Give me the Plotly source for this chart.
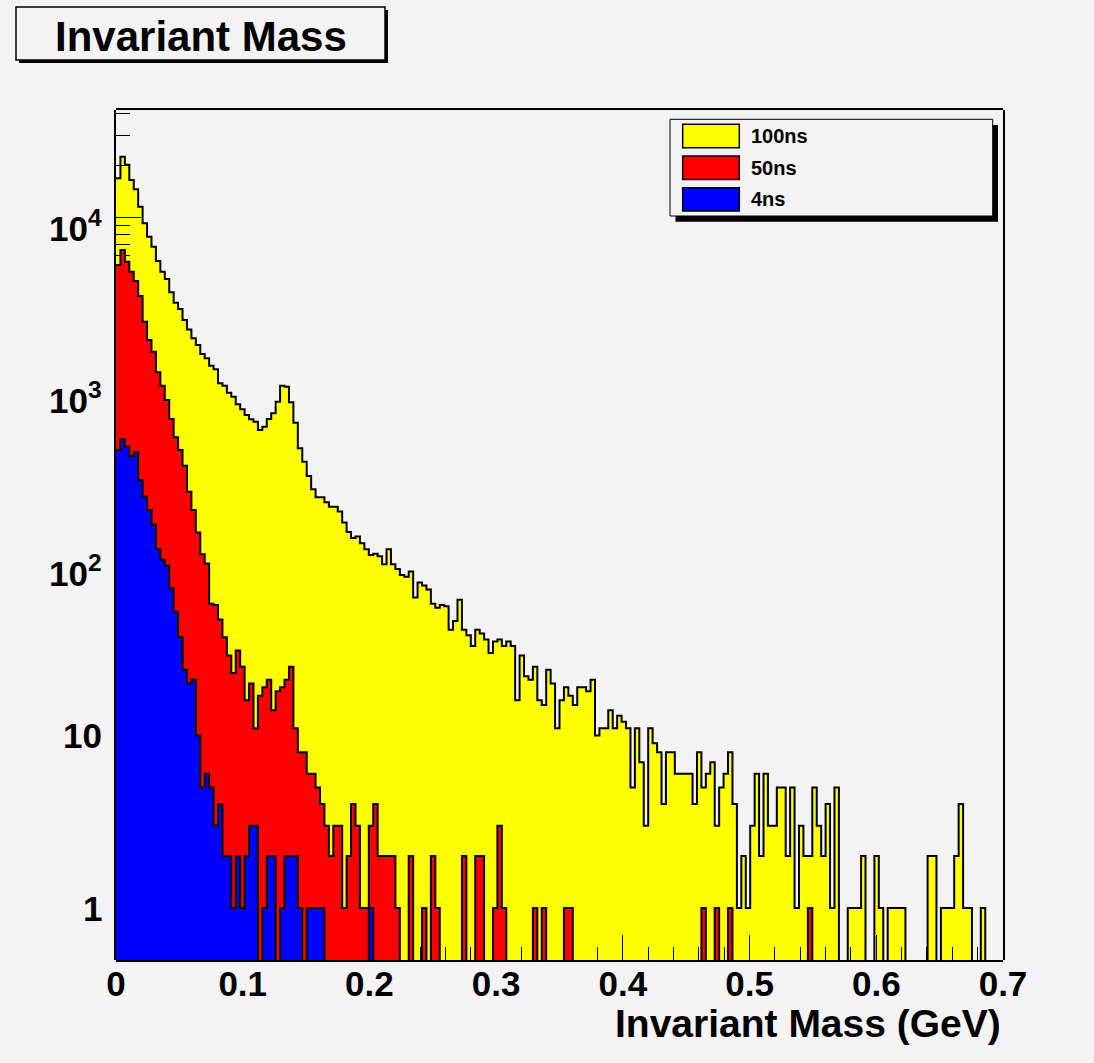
import numpy as np
import plotly.graph_objects as go

# ---------------------------------------------------------------
# Histogram definition: 200 bins between 0 and 0.7 GeV
# ---------------------------------------------------------------
n_bins = 200
mass_min, mass_max = 0.0, 0.7

# Entries per bin, 100 ns coincidence window
counts_100ns = [
    16900, 22500, 20200, 16500, 14600, 11560, 9270, 7750, 6780, 5610,
    4860, 4410, 3690, 3210, 2950, 2550, 2250, 2000, 1830, 1620,
    1530, 1387, 1321, 1097, 1062, 968, 917, 829, 775, 718,
    678, 657, 588, 614, 681, 735, 857, 1062, 1047, 851,
    648, 461, 385, 318, 267, 240, 240, 224, 211, 211,
    198, 171, 151, 139, 142, 130, 120, 111, 113, 109,
    98, 120, 98, 92, 85, 83, 89, 63, 77, 74,
    70, 58, 55, 57, 56, 41, 46, 61, 41, 38,
    33, 41, 39, 36, 30, 35, 36, 33, 35, 33,
    16, 29, 22, 21, 25, 16, 15, 24, 20, 11,
    16, 19, 17, 15, 19, 19, 18, 21, 10, 11,
    11, 14, 11, 13, 12, 11, 5, 11, 7, 3,
    11, 9, 8, 4, 8, 8, 6, 6, 6, 6,
    4, 8, 5, 6, 7, 3, 5, 6, 8, 4,
    1, 2, 1, 3, 6, 2, 6, 3, 3, 5,
    5, 2, 5, 1, 3, 2, 2, 5, 3, 2,
    4, 1, 5, 0, 0, 1, 1, 1, 2, 0,
    0, 2, 1, 0, 1, 1, 1, 1, 0, 0,
    0, 0, 0, 2, 2, 0, 1, 1, 1, 2,
    4, 1, 1, 0, 0, 1, 0, 0, 0, 0,
]

# Entries per bin, 50 ns coincidence window
counts_50ns = [
    5310, 6490, 5550, 4860, 4290, 3510, 2494, 1954, 1672, 1270,
    1062, 877, 681, 533, 450, 365, 258, 202, 150, 112,
    99, 58, 57, 47, 37, 29, 23, 31, 25, 16,
    20, 11, 17, 19, 21, 14, 18, 19, 21, 25,
    11, 8, 8, 6, 6, 5, 4, 3, 2, 3,
    3, 1, 2, 4, 3, 1, 1, 3, 4, 2,
    2, 2, 2, 1, 0, 0, 2, 0, 0, 1,
    0, 2, 1, 0, 0, 0, 0, 0, 2, 0,
    0, 2, 2, 0, 0, 1, 3, 1, 0, 0,
    0, 0, 0, 0, 1, 0, 1, 0, 0, 0,
    0, 1, 1, 0, 0, 0, 0, 0, 0, 0,
    0, 0, 0, 0, 0, 0, 0, 0, 0, 0,
    0, 0, 0, 0, 0, 0, 0, 0, 0, 0,
    0, 0, 1, 0, 0, 1, 0, 0, 1, 0,
    0, 0, 0, 0, 0, 0, 0, 0, 0, 0,
    0, 0, 0, 0, 0, 0, 1, 0, 0, 0,
    0, 0, 0, 0, 0, 0, 0, 0, 0, 0,
    0, 0, 0, 0, 0, 0, 0, 0, 0, 0,
    0, 0, 0, 0, 0, 0, 0, 0, 0, 0,
    0, 0, 0, 0, 0, 0, 0, 0, 0, 0,
]

# Entries per bin, 4 ns coincidence window
counts_4ns = [
    450, 520, 471, 416, 437, 302, 241, 202, 166, 120,
    104, 96, 71, 52, 37, 24, 20, 21, 10, 5,
    6, 5, 3, 4, 2, 2, 1, 2, 1, 2,
    3, 3, 0, 1, 2, 2, 0, 1, 2, 2,
    2, 1, 0, 1, 1, 1, 1, 0, 0, 0,
    0, 0, 0, 0, 0, 0, 0, 1, 0, 0,
] + [0] * 140

series_names = ["100ns", "50ns", "4ns"]
series_colors = ["#ffff00", "#ff0000", "#0000ff"]

x_tick_vals = [0.0, 0.1, 0.2, 0.3, 0.4, 0.5, 0.6, 0.7]
x_tick_text = ["0", "0.1", "0.2", "0.3", "0.4", "0.5", "0.6", "0.7"]
y_tick_vals = [1, 10, 100, 1000, 10000]
y_tick_text = ["1", "10", "10<sup>2</sup>", "10<sup>3</sup>", "10<sup>4</sup>"]

y_min, y_max = 0.5, 42000

title_text = "Invariant Mass"
x_title_text = "Invariant Mass (GeV)"

# ---------------------------------------------------------------
# Page geometry (pixels)
# ---------------------------------------------------------------
W, H = 1094, 1063
PL, PR, PT, PB = 116, 1003, 110, 960          # frame edges
BG = "#f3f3f3"
FONT = "Liberation Sans, Arial, Helvetica, sans-serif"


def px_x(px):
    return (px - PL) / (PR - PL)


def px_y(py):
    return (PB - py) / (PB - PT)


edges = np.linspace(mass_min, mass_max, n_bins + 1)
floor_val = 1e-3   # empty bins: outline drops below the visible range


def step_trace(counts, color, xa, ya, name):
    c = np.asarray(counts, dtype=float)
    y = np.where(c > 0, c, floor_val)
    y = np.append(y, y[-1])
    return go.Scatter(
        x=edges, y=y, mode="lines", name=name,
        line=dict(shape="hv", color="black", width=2),
        fill="tozeroy", fillcolor=color,
        xaxis=xa, yaxis=ya, hoverinfo="skip", showlegend=False,
    )


fig = go.Figure()
# 100 ns on the first subplot (axis ticks are drawn on top of it),
# 50 ns and 4 ns on a second subplot sharing the same frame.
fig.add_trace(step_trace(counts_100ns, series_colors[0], "x", "y", series_names[0]))
fig.add_trace(step_trace(counts_50ns, series_colors[1], "x2", "y2", series_names[1]))
fig.add_trace(step_trace(counts_4ns, series_colors[2], "x2", "y2", series_names[2]))

y_range = [np.log10(y_min), np.log10(y_max)]

fig.update_layout(
    width=W, height=H,
    margin=dict(l=PL, r=W - PR, t=PT, b=H - PB, pad=0),
    paper_bgcolor=BG, plot_bgcolor="rgba(0,0,0,0)",
    showlegend=False,
    font=dict(family=FONT, color="black"),
    xaxis=dict(
        range=[mass_min, mass_max], domain=[0, 1], anchor="y",
        tickmode="array", tickvals=x_tick_vals, ticktext=x_tick_text,
        ticks="inside", ticklen=25, tickwidth=1, tickcolor="black",
        minor=dict(dtick=0.02, tick0=0, ticks="inside", ticklen=13,
                   tickwidth=1, tickcolor="black"),
        tickfont=dict(family=FONT, size=35, weight="bold", color="black"),
        showgrid=False, zeroline=False, showline=False,
        layer="above traces", fixedrange=True,
    ),
    yaxis=dict(
        type="log", range=y_range, domain=[0, 1], anchor="x",
        dtick=1, ticks="inside", ticklen=25, tickwidth=1, tickcolor="black",
        minor=dict(dtick="D1", ticks="inside", ticklen=14,
                   tickwidth=1, tickcolor="black"),
        showticklabels=False, showgrid=False, zeroline=False,
        showline=True, linecolor="black", linewidth=1.5, mirror=True,
        layer="above traces", fixedrange=True,
    ),
    xaxis2=dict(
        range=[mass_min, mass_max], domain=[0, 1], anchor="y2",
        showticklabels=False, ticks="", showgrid=False, zeroline=False,
        showline=True, linecolor="black", linewidth=1.5, mirror=True,
        fixedrange=True,
    ),
    yaxis2=dict(
        type="log", range=y_range, domain=[0, 1], anchor="x2",
        showticklabels=False, ticks="", showgrid=False, zeroline=False,
        showline=False, fixedrange=True,
    ),
)

shapes = []
annotations = []

# Title box with drop shadow
shapes.append(dict(type="rect", xref="paper", yref="paper", layer="above",
                   x0=px_x(19), x1=px_x(388), y0=px_y(63), y1=px_y(10),
                   fillcolor="black", line=dict(width=0)))
shapes.append(dict(type="rect", xref="paper", yref="paper", layer="above",
                   x0=px_x(16), x1=px_x(385), y0=px_y(60), y1=px_y(7),
                   fillcolor=BG, line=dict(color="black", width=1.5)))
annotations.append(dict(text=title_text, xref="paper", yref="paper",
                        x=px_x(200.5), y=px_y(37), xanchor="center", yanchor="middle",
                        showarrow=False,
                        font=dict(family=FONT, size=42, weight="bold", color="black")))

# Legend box with drop shadow
shapes.append(dict(type="rect", xref="paper", yref="paper", layer="above",
                   x0=px_x(675.5), x1=px_x(998), y0=px_y(221.7), y1=px_y(125),
                   fillcolor="black", line=dict(width=0)))
shapes.append(dict(type="rect", xref="paper", yref="paper", layer="above",
                   x0=px_x(670), x1=px_x(992.7), y0=px_y(216), y1=px_y(119.3),
                   fillcolor=BG, line=dict(color="black", width=1)))
for i, (name, color) in enumerate(zip(series_names, series_colors)):
    top = 124.3 + i * 31.7
    shapes.append(dict(type="rect", xref="paper", yref="paper", layer="above",
                       x0=px_x(682.7), x1=px_x(739.3), y0=px_y(top + 23.4), y1=px_y(top),
                       fillcolor=color, line=dict(color="black", width=1.5)))
    annotations.append(dict(text=name, xref="paper", yref="paper",
                            x=px_x(749), y=px_y(top + 11.7), xanchor="left", yanchor="middle",
                            showarrow=False,
                            font=dict(family=FONT, size=20, weight="bold", color="black")))

# Y tick labels
for val, txt in zip(y_tick_vals, y_tick_text):
    has_sup = "<sup>" in txt
    annotations.append(dict(text=txt, xref="paper", yref="y",
                            x=0, y=np.log10(val), xanchor="right", yanchor="middle",
                            xshift=-12, yshift=-8 if has_sup else 0,
                            showarrow=False,
                            font=dict(family=FONT, size=35, weight="bold", color="black")))

# X axis title, right-aligned to the frame
annotations.append(dict(text=x_title_text, xref="paper", yref="paper",
                        x=1.0, y=px_y(1024), xanchor="right", yanchor="middle",
                        showarrow=False,
                        font=dict(family=FONT, size=39, weight="bold", color="black")))

fig.update_layout(shapes=shapes, annotations=annotations)

fig.write_html("out.html")
